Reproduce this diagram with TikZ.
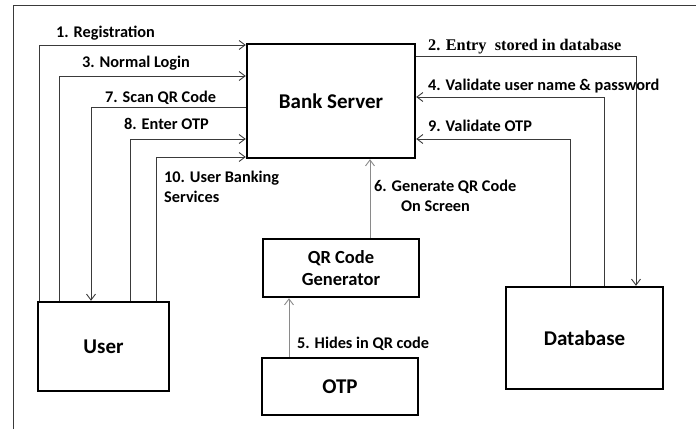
\documentclass[tikz,border=0pt]{standalone}
\usepackage{fontspec}
\setmainfont{Carlito}
\newfontfamily\timesfont{Liberation Serif}
\usetikzlibrary{arrows.meta}
\definecolor{wire}{HTML}{3A3A3A}
\definecolor{softwire}{HTML}{8A8A8A}
\tikzset{
  blockbox/.style={draw=black, line width=2.4pt, inner sep=0pt, align=center,
    font=\bfseries\fontsize{21}{24}\selectfont},
  flow/.style={draw=wire, line width=0.9pt, -{Straight Barb[length=6pt,width=9pt,line width=0.9pt]}},
  softflow/.style={flow, draw=softwire},
  steplabel/.style={anchor=base west, inner sep=0pt, font=\bfseries\fontsize{16.3}{20}\selectfont},
}
\begin{document}
\begin{tikzpicture}[x=1pt,y=-1pt]
\useasboundingbox (0,0) rectangle (696,429);
% outer frame
\draw[draw=wire, line width=0.9pt] (13,429) -- (13,5) -- (696,5);

% blocks
\node[blockbox, minimum width=168pt, minimum height=114pt] (bank) at (331,101) {Bank Server};
\node[blockbox, minimum width=131pt, minimum height=89pt] (user) at (103.5,346.5) {User};
\node[blockbox, minimum width=156pt, minimum height=58pt, font=\bfseries\fontsize{18.5}{22}\selectfont] (qr) at (341,268) {QR Code\\Generator};
\node[blockbox, minimum width=156pt, minimum height=57pt] (otp) at (340,386.5) {OTP};
\node[blockbox, minimum width=157pt, minimum height=102pt] (db) at (584.5,338) {Database};

% user <-> bank server
\draw[flow] (39,0 |- user.north) |- (bank.west |- 0,45);
\draw[flow] (59,0 |- user.north) |- (bank.west |- 0,76);
\draw[flow] (bank.west |- 0,107) -| (91,0 |- user.north);
\draw[flow] (130,0 |- user.north) |- (bank.west |- 0,139);
\draw[flow] (156,0 |- user.north) |- (bank.west |- 0,157);

% bank server <-> database
\draw[flow] (bank.east |- 0,56) -| (636,0 |- db.north);
\draw[flow] (604,0 |- db.north) |- (bank.east |- 0,97);
\draw[flow] (570,0 |- db.north) |- (bank.east |- 0,139);

% otp -> qr generator -> bank server
\draw[softflow] (qr.north -| 370,0) -- (bank.south -| 370,0);
\draw[softflow] (otp.north -| 289,0) -- (qr.south -| 289,0);

% step labels
\node[steplabel] (l1) at (56,37.5) {1. Registration};
\node[steplabel] (l3) at (82,67.5) {3. Normal Login};
\node[steplabel] (l7) at (105,102.5) {7. Scan QR Code};
\node[steplabel] (l8) at (124,129.5) {8. Enter OTP};
\node[steplabel] (l10a) at (164,182.5) {10. User Banking};
\node[steplabel] (l10b) at (164,202.5) {Services};
\node[steplabel, font=\timesfont\bfseries\fontsize{16.3}{20}\selectfont] (l2) at (428,50.5) {2. Entry\ \ stored\ in\ database};
\node[steplabel] (l4) at (428,90.5) {4. Validate user name \& password};
\node[steplabel] (l9) at (428,131.5) {9. Validate OTP};
\node[steplabel] (l6a) at (374,191.5) {6. Generate QR Code};
\node[steplabel] (l6b) at (401,211.5) {On Screen};
\node[steplabel] (l5) at (297,348.5) {5. Hides in QR code};
\end{tikzpicture}
\end{document}
